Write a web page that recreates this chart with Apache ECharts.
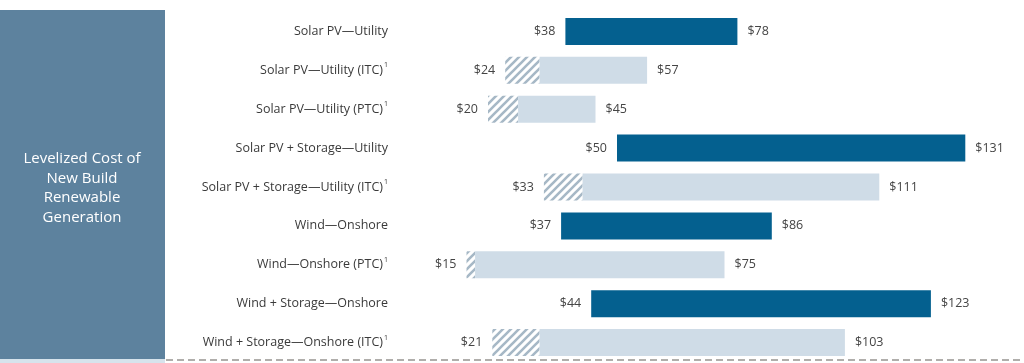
<!DOCTYPE html>
<html><head><meta charset="utf-8">
<script src="https://cdn.jsdelivr.net/npm/echarts@6/dist/echarts.min.js"></script>
<style>html,body{margin:0;padding:0;background:#fff}#c{width:1024px;height:363px}</style>
</head><body><div id="c"></div>
<script>
const categories = ['Solar PV\u2014Utility','Solar PV\u2014Utility (ITC)','Solar PV\u2014Utility (PTC)','Solar PV + Storage\u2014Utility','Solar PV + Storage\u2014Utility (ITC)','Wind\u2014Onshore','Wind\u2014Onshore (PTC)','Wind + Storage\u2014Onshore','Wind + Storage\u2014Onshore (ITC)'];
const footnote = [false,true,true,false,true,false,true,false,true];
const lowValues = [38,24,20,50,33,37,15,44,21];
const highValues = [78,57,45,131,111,86,75,123,103];
// where the hatched (incentive) portion ends; null = no hatched portion
const hatchEnd = [null,32,27,null,42,null,17,null,32];

const DARK = '#04608f', LIGHT = '#cfdce7', HATCH = '#a6b8c6';

const pc = document.createElement('canvas');
pc.width = 8; pc.height = 8;
const g = pc.getContext('2d');
g.fillStyle = '#fff'; g.fillRect(0,0,8,8);
g.strokeStyle = HATCH; g.lineWidth = 2.6;
g.beginPath();
g.moveTo(-2,10); g.lineTo(10,-2);
g.moveTo(-2,2); g.lineTo(2,-2);
g.moveTo(6,10); g.lineTo(10,6);
g.stroke();

const baseData = lowValues;
const hatchData = lowValues.map((v,i)=> hatchEnd[i]==null ? '-' : hatchEnd[i]-v);
const mainData = highValues.map((v,i)=>({
  value: v - (hatchEnd[i]==null ? lowValues[i] : hatchEnd[i]),
  itemStyle: {color: hatchEnd[i]==null ? DARK : LIGHT}
}));

const chart = echarts.init(document.getElementById('c'));
const FONT = '"Open Sans", sans-serif';
chart.setOption({
  animation:false,
  grid:{left:402, right:20, top:12, height:350},
  xAxis:{type:'value', min:0, max:140, show:false},
  yAxis:{type:'category', inverse:true, data:categories,
    axisLine:{show:false}, axisTick:{show:false}, splitLine:{show:false},
    axisLabel:{margin:14, color:'#3a3a3a', fontSize:12.5, fontFamily:FONT,
      formatter:(v,i)=> footnote[i] ? v + '{s|1}' : v,
      rich:{s:{fontSize:7, verticalAlign:'top', padding:[0,0,10,1], color:'#3a3a3a', fontFamily:FONT}}
    }},
  series:[
    {type:'bar', stack:'a', data:baseData, barWidth:27, itemStyle:{color:'rgba(0,0,0,0)'},
     label:{show:true, position:'insideRight', distance:10, color:'#444', fontSize:12.5, fontFamily:FONT,
       formatter:p=>'$'+lowValues[p.dataIndex]}, silent:true},
    {type:'bar', stack:'a', data:hatchData, barWidth:27, itemStyle:{color:{image:pc, repeat:'repeat'}}},
    {type:'bar', stack:'a', data:mainData, barWidth:27,
     label:{show:true, position:'right', distance:10, color:'#444', fontSize:12.5, fontFamily:FONT,
       formatter:p=>'$'+highValues[p.dataIndex]}}
  ],
  graphic:[
    {type:'rect', shape:{x:0,y:10,width:165,height:349}, style:{fill:'#5d829e'}},
    {type:'rect', shape:{x:0,y:359,width:165,height:4}, style:{fill:'#d6e3ec'}},
    {type:'text', x:82, y:188, style:{text:'Levelized Cost of\nNew Build\nRenewable\nGeneration', fill:'#fff', fontSize:15, lineHeight:19.5, fontFamily:FONT, align:'center', verticalAlign:'middle'}},
    {type:'line', shape:{x1:166,y1:360,x2:1024,y2:360}, style:{stroke:'#b0aeab', lineWidth:2, lineDash:[7,4]}}
  ]
});
</script></body></html>
